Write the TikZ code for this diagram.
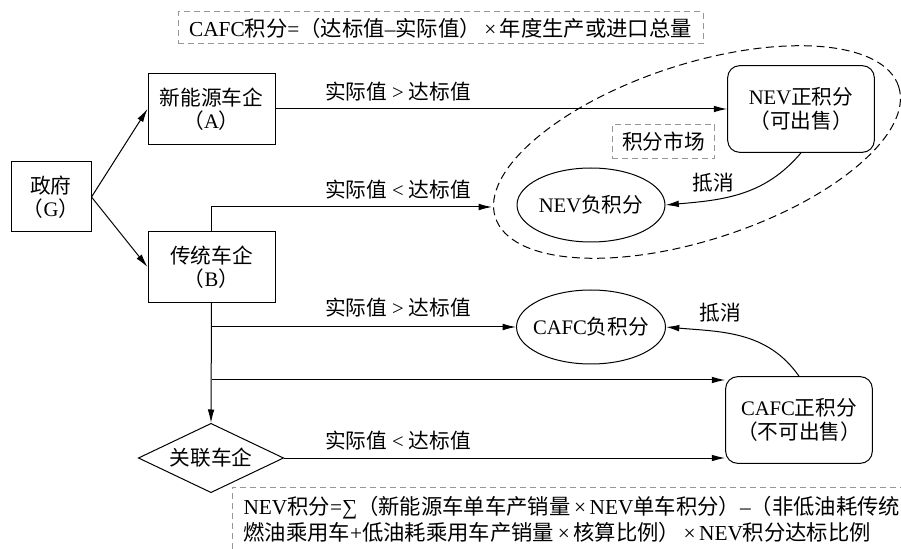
\documentclass[tikz,border=0pt]{standalone}
\usepackage{fontspec}
\setmainfont{Liberation Serif}
\newfontfamily\cjk{Noto Sans CJK SC}
\newcommand{\zh}[1]{{\cjk #1}}
\usetikzlibrary{shapes.geometric,arrows.meta}

\definecolor{boxgray}{RGB}{150,150,150}
\tikzset{every picture/.style={line width=0.75pt}}
\tikzset{
	txt/.style={font=\fontsize{15.5}{17.5}\selectfont, inner sep=0.75pt},
	formula/.style={font=\fontsize{16}{19.5}\selectfont},
	firm/.style={txt, draw, align=center, minimum width=95.25pt, minimum height=53pt},
	credit/.style={txt, draw, rounded corners=9pt, align=center, minimum width=110pt, minimum height=65pt},
	debit/.style={txt, draw, ellipse, inner sep=-4pt, minimum width=111pt, minimum height=55.5pt},
	dashbox/.style={draw=boxgray, dash pattern=on 4.5pt off 3pt},
	arr/.style={-{Latex[length=10pt,width=5pt]}}}

\begin{document}
\begin{tikzpicture}[x=0.75pt,y=0.75pt,yscale=-1,xscale=1]
	\useasboundingbox (0,0) rectangle (901,549);
	
	% Text Node
	\node [txt, formula, dashbox, minimum width=393.75pt, minimum height=24pt] (cafcf) at (440.5,28) {CAFC\zh{积分}=\zh{（达标值}–\zh{实际值）}\,×\,\zh{年度生产或进口总量}};
	
	%Boxes
	\node [firm, minimum width=60pt, minimum height=52.5pt] (gov) at (51,197) {\zh{政府}\\\zh{（}G\zh{）}};
	\node [firm] (nevA) at (211.5,109) {\zh{新能源车企}\\\zh{（}A\zh{）}};
	\node [firm] (tradB) at (211.5,267) {\zh{传统车企}\\\zh{（}B\zh{）}};
	\node [txt, draw, diamond, aspect=2.1, inner sep=0pt, minimum width=109pt, minimum height=52pt] (link) at (211,458) {\zh{关联车企}};
	\node [credit] (nevpos) at (801,109) {NEV\zh{正积分}\\\zh{（可出售）}};
	\node [debit] (nevneg) at (591,205) {NEV\zh{负积分}};
	\node [credit] (cafcpos) at (799,420) {CAFC\zh{正积分}\\\zh{（不可出售）}};
	\node [debit] (cafcneg) at (591,327) {CAFC\zh{负积分}};
	\node [txt, dashbox, minimum width=77pt, minimum height=25pt] (mkt) at (663.5,141.5) {\zh{积分市场}};
	
	%Market ellipse
	\draw [dash pattern=on 6pt off 3.5pt, rotate around={-18:(697,152)}] (697,152) ellipse (212 and 88);
	\coordinate (mktW) at (492,207);
	
	%Straight Lines
	\draw [arr] (gov.east) -- (nevA.west);
	\draw [arr] (gov.east) -- (tradB.west);
	\draw [arr] (nevA.east) -- (nevpos.west);
	\draw [arr] (tradB.north) |- (mktW);
	\draw [arr] (tradB.south) -- (link.north);
	\coordinate (splitN) at (tradB.south |- cafcneg.west);
	\draw [arr] (splitN) -- (cafcneg.west);
	\coordinate (splitC) at (211.5,380);
	\draw [arr] (splitC) -- (splitC -| cafcpos.west);
	\draw [arr] (link.east) -- (link.east -| cafcpos.west);
	%Curves
	\draw [arr] (nevpos.south) to [out=130,in=-5] (nevneg.east);
	\draw [arr] (cafcpos.north) to [out=-125,in=5] (cafcneg.east);
	
	% Text Node
	\node [txt] (lblA) at (398,92) {\zh{实际值} > \zh{达标值}};
	\node [txt] (lblB) at (398,190) {\zh{实际值} < \zh{达标值}};
	\node [txt] (lblC) at (398,308) {\zh{实际值} > \zh{达标值}};
	\node [txt] (lblD) at (398,441) {\zh{实际值} < \zh{达标值}};
	\node [txt] (offN) at (713,183) {\zh{抵消}};
	\node [txt] (offC) at (720,313) {\zh{抵消}};
	
	% Text Node
	\node [txt, formula, anchor=north west, align=left, inner sep=0pt] (nevf) at (243,496) {NEV\zh{积分}=∑\zh{（新能源车单车产销量}\,×\,NEV\zh{单车积分）}–\zh{（非低油耗传统}\\\zh{燃油乘用车}+\zh{低油耗乘用车产销量}\,×\,\zh{核算比例）}\,×\,NEV\zh{积分达标比例}};
	\draw [dashbox] (232,549) |- (901,487);
	
\end{tikzpicture}
\end{document}
